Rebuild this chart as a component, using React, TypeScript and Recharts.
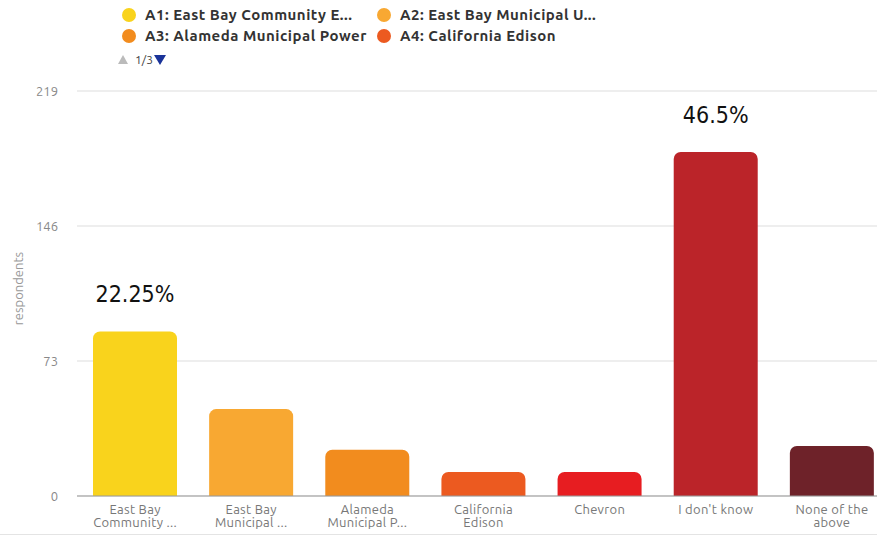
import React from 'react';
import { BarChart, Bar, XAxis, YAxis, CartesianGrid, Cell, LabelList } from 'recharts';

const categories = [
  'East Bay\nCommunity ...',
  'East Bay\nMunicipal ...',
  'Alameda\nMunicipal P...',
  'California\nEdison',
  'Chevron',
  "I don't know",
  'None of the\nabove',
];
const respondents = [89, 47, 25, 13, 13, 186, 27];
const percentLabels = ['22.25%', '', '', '', '', '46.5%', ''];
const barColors = ['#F9D31C', '#F8A832', '#F28C1E', '#EC5A20', '#E71D21', '#BB2429', '#6E2229'];
const yTicks = [0, 73, 146, 219];
const legendItems = [
  'A1: East Bay Community E...',
  'A2: East Bay Municipal U...',
  'A3: Alameda Municipal Power',
  'A4: California Edison',
];
const legendColors = ['#F9D31C', '#F8A832', '#F28C1E', '#EC5A20'];
const pageLabel = '1/3';

const data = categories.map((c, i) => ({ name: c, value: respondents[i], pct: percentLabels[i] }));

const FONT = 'Ubuntu, "Open Sans", "Noto Sans", sans-serif';

const XTick = (props: any) => {
  const { x, y, payload } = props;
  const lines = String(payload.value).split('\n');
  return (
    <text x={x} y={y} textAnchor="middle" fill="#777" fontSize={13} letterSpacing={0.3} fontFamily={FONT}>
      {lines.map((l, i) => (
        <tspan key={i} x={x} dy={i === 0 ? 10 : 13}>{l}</tspan>
      ))}
    </text>
  );
};

const PctLabel = (props: any) => {
  const { x, y, width, value } = props;
  if (!value) return null;
  return (
    <text x={Number(x) + Number(width) / 2} y={Number(y) - 36} textAnchor="middle" dominantBaseline="middle"
      fill="#111" fontSize={23} fontFamily='"Liberation Sans Narrow", "DejaVu Sans Condensed", "Open Sans", sans-serif'>
      {value}
    </text>
  );
};

export default function App() {
  return (
    <div style={{ position: 'fixed', left: 0, top: 0, width: 877, height: 542, overflow: 'hidden', background: '#fff' }}>
      <div style={{ position: 'absolute', left: 0, top: 0, width: 877, height: 80, fontFamily: FONT }}>
        {legendItems.map((t, i) => {
          const col = i % 2;
          const row = Math.floor(i / 2);
          return (
            <div key={i} style={{ position: 'absolute', left: col === 0 ? 122 : 377, top: row === 0 ? 6 : 27, display: 'flex', alignItems: 'center', whiteSpace: 'nowrap' }}>
              <span style={{ display: 'inline-block', width: 14, height: 14, borderRadius: 7, background: legendColors[i], marginRight: 9 }} />
              <span style={{ fontSize: 15, fontWeight: 700, color: '#333', letterSpacing: 0.5 }}>{t}</span>
            </div>
          );
        })}
        <div style={{ position: 'absolute', left: 117, top: 53, display: 'flex', alignItems: 'center', fontSize: 12, color: '#444' }}>
          <svg width={12} height={12}><polygon points="6,1 11,10 1,10" fill="#bbb" /></svg>
          <span style={{ marginLeft: 6 }}>{pageLabel}</span>
          <svg width={14} height={12}><polygon points="1,1 13,1 7,11" fill="#1A3399" /></svg>
        </div>
      </div>
      <div style={{ position: 'absolute', left: 0, top: 534, width: 877, height: 1, background: '#e4e4e4' }} />
      <div style={{ position: 'absolute', left: 0, top: 0 }}>
        <BarChart width={890} height={542} data={data} margin={{ top: 91, right: 0, bottom: 0, left: 0 }} barSize={84}>
          <CartesianGrid vertical={false} stroke="#e8e8e8" strokeWidth={1.5} />
          <XAxis dataKey="name" interval={0} height={46} tick={<XTick />} tickLine={false} axisLine={{ stroke: '#999', strokeWidth: 1 }} />
          <YAxis
            width={77}
            domain={[0, 219]}
            ticks={yTicks}
            tickLine={false}
            axisLine={false}
            tickSize={0}
            tickMargin={19}
            tick={{ fill: '#888', fontSize: 13, fontFamily: FONT }}
            label={{ value: 'respondents', angle: -90, position: 'insideLeft', offset: 18, dy: -5, style: { fill: '#999', fontSize: 13, fontFamily: FONT, textAnchor: 'middle' } }}
          />
          <Bar dataKey="value" isAnimationActive={false} radius={[7, 7, 0, 0]}>
            {data.map((d, i) => <Cell key={i} fill={barColors[i]} />)}
            <LabelList dataKey="pct" content={<PctLabel />} />
          </Bar>
        </BarChart>
      </div>
    </div>
  );
}
